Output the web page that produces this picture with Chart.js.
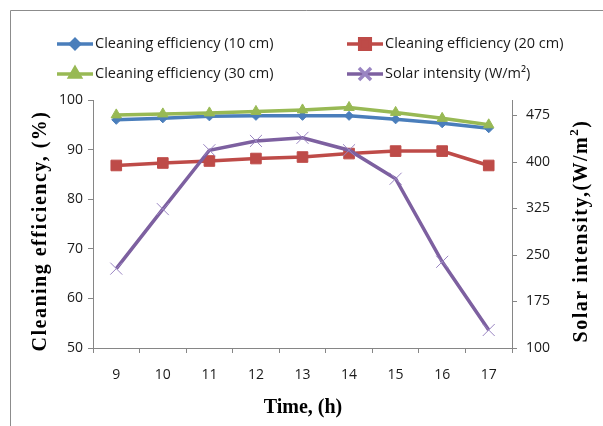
<!DOCTYPE html>
<html>
<head>
<meta charset="utf-8">
<script src="https://cdn.jsdelivr.net/npm/chart.js@4/dist/chart.umd.min.js"></script>
<style>
  html, body { margin: 0; padding: 0; background: #fff; }
  #wrap { width: 603px; height: 426px; position: relative; }
</style>
</head>
<body>
<div id="wrap"><canvas id="chart" width="603" height="426"></canvas></div>
<script>
// Data
const hours = ['9', '10', '11', '12', '13', '14', '15', '16', '17'];
const eff10cm = [96.0, 96.3, 96.7, 96.8, 96.8, 96.8, 96.1, 95.3, 94.3];
const eff20cm = [86.8, 87.3, 87.7, 88.2, 88.5, 89.2, 89.7, 89.7, 86.8];
const eff30cm = [97.0, 97.2, 97.4, 97.7, 98.0, 98.5, 97.5, 96.3, 95.0];
const solar = [228, 324, 419, 434, 439, 419, 373, 239, 129];
const solarTicks = [100, 175, 250, 325, 400, 475];

const AXIS_GREY = '#868686';
const TEXT = '#1a1a1a';
const tickFont = { family: '"Open Sans", sans-serif', size: 14 };

// Legend, axis titles and outer frame drawn by hand to match the layout
const decorations = {
  id: 'decorations',
  afterDraw(chart) {
    const ctx = chart.ctx;
    ctx.save();

    // outer frame (top + left edge only visible in the crop)
    ctx.strokeStyle = '#8c8c8c';
    ctx.lineWidth = 1;
    ctx.beginPath();
    ctx.moveTo(603, 10.5);
    ctx.lineTo(10.5, 10.5);
    ctx.lineTo(10.5, 426);
    ctx.stroke();

    // legend, two columns
    const slots = [[57, 44], [347, 44], [57, 74], [347, 74]];
    ctx.font = '14.5px "Open Sans", sans-serif';
    ctx.textBaseline = 'middle';
    ctx.textAlign = 'left';
    chart.data.datasets.forEach((ds, i) => {
      const [x, y] = slots[i];
      ctx.strokeStyle = ds.borderColor;
      ctx.lineWidth = ds.borderWidth;
      ctx.beginPath();
      ctx.moveTo(x, y);
      ctx.lineTo(x + 36, y);
      ctx.stroke();
      ctx.fillStyle = ds.pointBackgroundColor;
      ctx.strokeStyle = ds.pointBorderColor;
      Chart.helpers.drawPoint(ctx, {
        pointStyle: ds.pointStyle,
        radius: ds.pointRadius,
        rotation: 0,
        borderWidth: ds.pointBorderWidth
      }, x + 18, y);
      ctx.fillStyle = TEXT;
      ctx.fillText(ds.label, x + 38, y);
    });

    // axis titles
    ctx.fillStyle = '#000';
    ctx.font = 'bold 20px "Liberation Serif", serif';
    ctx.textAlign = 'center';
    ctx.textBaseline = 'middle';
    ctx.fillText('Time, (h)', 303, 408);

    ctx.letterSpacing = '1.5px';
    ctx.save();
    ctx.translate(41, 231);
    ctx.rotate(-Math.PI / 2);
    ctx.fillText('Cleaning efficiency, (%)', 0, 0);
    ctx.restore();

    // right title with a raised 2
    ctx.save();
    ctx.translate(582, 231);
    ctx.rotate(-Math.PI / 2);
    ctx.textAlign = 'left';
    const main = 'Solar intensity,(W/m';
    ctx.font = 'bold 20px "Liberation Serif", serif';
    const wMain = ctx.measureText(main).width;
    ctx.font = 'bold 13px "Liberation Serif", serif';
    const wSup = ctx.measureText('2').width;
    ctx.font = 'bold 20px "Liberation Serif", serif';
    const wEnd = ctx.measureText(')').width;
    let x0 = -(wMain + wSup + wEnd) / 2;
    ctx.fillText(main, x0, 0);
    ctx.font = 'bold 13px "Liberation Serif", serif';
    ctx.fillText('2', x0 + wMain, -7);
    ctx.font = 'bold 20px "Liberation Serif", serif';
    ctx.fillText(')', x0 + wMain + wSup, 0);
    ctx.restore();

    ctx.restore();
  }
};

new Chart(document.getElementById('chart'), {
  type: 'line',
  data: {
    labels: hours,
    datasets: [
      {
        label: 'Cleaning efficiency (10 cm)',
        data: eff10cm,
        yAxisID: 'y',
        borderColor: '#4A7EBB',
        borderWidth: 3.5,
        pointStyle: 'rectRot',
        pointRadius: 4.5,
        pointBackgroundColor: '#4A7EBB',
        pointBorderColor: '#4A7EBB',
        pointBorderWidth: 1,
        order: 3
      },
      {
        label: 'Cleaning efficiency (20 cm)',
        data: eff20cm,
        yAxisID: 'y',
        borderColor: '#BE4B48',
        borderWidth: 3.5,
        pointStyle: 'rect',
        pointRadius: 7.5,
        pointBackgroundColor: '#BE4B48',
        pointBorderColor: '#BE4B48',
        pointBorderWidth: 1,
        order: 2
      },
      {
        label: 'Cleaning efficiency (30 cm)',
        data: eff30cm,
        yAxisID: 'y',
        borderColor: '#98B954',
        borderWidth: 3.5,
        pointStyle: 'triangle',
        pointRadius: 6,
        pointBackgroundColor: '#98B954',
        pointBorderColor: '#98B954',
        pointBorderWidth: 1,
        order: 1
      },
      {
        label: 'Solar intensity (W/m\u00B2)',
        data: solar,
        yAxisID: 'y1',
        borderColor: '#7D60A0',
        borderWidth: 3.5,
        pointStyle: 'crossRot',
        pointRadius: 8.5,
        pointBackgroundColor: '#9A85C2',
        pointBorderColor: '#9A85C2',
        pointBorderWidth: 1,
        order: 0
      }
    ]
  },
  options: {
    responsive: false,
    animation: false,
    devicePixelRatio: 1,
    layout: { padding: { top: 100, left: 0, right: 0, bottom: 0 } },
    plugins: {
      legend: { display: false },
      tooltip: { enabled: false }
    },
    elements: { line: { tension: 0 } },
    scales: {
      x: {
        offset: true,
        grid: {
          offset: true,
          drawOnChartArea: false,
          color: AXIS_GREY,
          tickLength: 5
        },
        border: { color: AXIS_GREY },
        ticks: { color: TEXT, font: tickFont, padding: 14, maxRotation: 0 },
        afterFit(scale) { scale.height = 78; }
      },
      y: {
        position: 'left',
        min: 50,
        max: 100,
        ticks: { stepSize: 10, color: TEXT, font: tickFont, padding: 5 },
        grid: { drawOnChartArea: false, color: AXIS_GREY, tickLength: 5 },
        border: { color: AXIS_GREY },
        afterFit(scale) { scale.width = 93; }
      },
      y1: {
        position: 'right',
        min: 100,
        max: 500,
        ticks: { color: TEXT, font: tickFont, padding: 9 },
        grid: { drawOnChartArea: false, color: AXIS_GREY, tickLength: 5 },
        border: { color: AXIS_GREY },
        afterBuildTicks(scale) { scale.ticks = solarTicks.map(v => ({ value: v })); },
        afterFit(scale) { scale.width = 91; }
      }
    }
  },
  plugins: [decorations]
});
</script>
</body>
</html>
